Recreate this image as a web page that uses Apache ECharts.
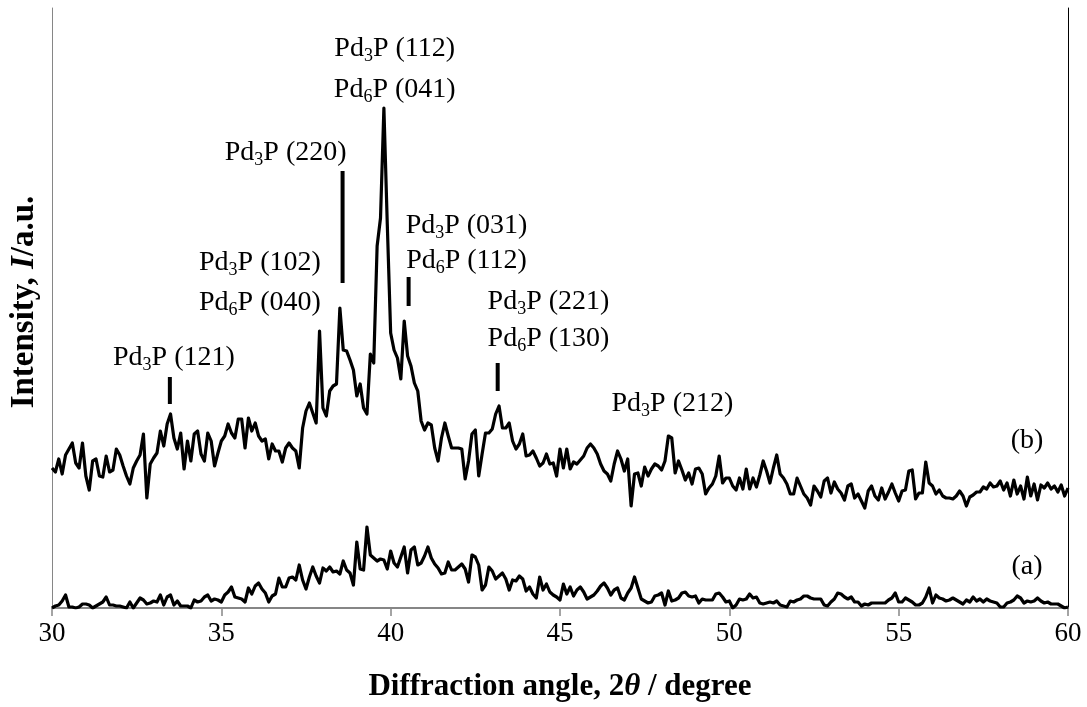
<!DOCTYPE html>
<html>
<head>
<meta charset="utf-8">
<script src="https://cdn.jsdelivr.net/npm/echarts@6/dist/echarts.min.js"></script>
<style>
  html, body { margin: 0; padding: 0; background: #fff; }
  #chart { width: 1087px; height: 707px; }
</style>
</head>
<body>
<div id="chart"></div>
<script>
// Scan grid: 2θ from 30° to 60° in 0.1° steps
const angleStart = 30;
const angleStep = 0.1;

// (b) pattern, arbitrary intensity units
const intensityB = [
  140,136,149,134,153,159,165,145,140,165,
  132,118,147,149,132,131,152,136,138,159,
  153,142,132,124,140,147,153,174,110,144,
  150,155,177,162,184,194,170,159,175,139,
  167,147,174,177,154,147,175,167,142,155,
  167,172,184,175,170,189,189,160,190,177,
  185,172,167,169,149,164,157,157,146,160,
  165,160,157,140,180,197,205,195,185,277,
  200,192,217,222,224,300,258,257,248,238,
  212,224,200,194,254,245,362,390,500,384,
  275,258,250,229,287,252,242,225,217,187,
  178,185,183,160,147,170,185,172,160,160,
  160,159,129,147,174,178,132,154,175,175,
  179,194,202,180,180,185,167,159,164,174,
  152,153,157,150,142,145,154,144,145,132,
  159,140,159,139,146,144,148,152,160,164,
  160,154,144,137,134,127,144,157,149,137,
  149,102,134,135,122,141,132,139,144,142,
  138,147,172,170,135,147,138,128,135,124,
  139,140,134,114,120,124,132,152,125,130,
  130,122,118,130,119,139,119,130,121,133,
  147,137,125,140,153,134,130,124,114,114,
  130,122,114,110,103,122,117,111,127,130,
  115,126,119,115,108,122,124,110,114,107,
  100,117,122,112,108,120,109,116,124,115,
  107,117,118,137,138,109,115,115,146,125,
  122,114,118,112,110,110,109,112,117,112,
  102,111,113,116,116,121,119,125,121,122,
  127,118,125,112,128,114,122,109,131,112,
  124,108,123,120,125,119,122,116,123,112,
  120
];

// (a) pattern, same units
const intensityA = [
  0,2,3,7,13,1,1,0,1,4,
  4,3,0,2,4,6,11,3,3,2,
  2,1,0,6,0,5,10,8,4,5,
  7,6,13,3,11,13,3,7,2,2,
  2,0,8,6,7,11,13,7,9,8,
  6,13,16,21,11,10,9,6,20,14,
  22,25,19,15,6,12,14,30,21,21,
  30,31,28,43,28,19,31,41,32,25,
  40,37,41,36,37,34,47,38,35,23,
  66,39,38,81,53,50,47,49,48,39,
  57,45,41,51,61,35,58,61,43,45,
  52,61,50,44,40,34,35,46,38,38,
  41,44,39,26,53,51,43,18,23,41,
  37,29,32,35,29,18,28,27,32,29,
  17,21,14,10,31,18,24,16,13,11,
  8,24,14,21,12,18,21,16,9,11,
  13,17,22,25,20,13,18,20,10,8,
  15,20,31,20,9,7,5,6,12,13,
  15,3,17,7,8,10,15,16,12,11,
  12,5,9,8,8,8,14,15,11,6,
  7,0,3,9,8,9,14,10,11,5,
  4,5,6,5,7,3,2,1,7,6,
  8,9,12,12,10,9,9,9,3,2,
  6,9,15,14,11,9,11,6,6,2,
  4,3,5,5,5,5,5,8,10,15,
  6,6,10,8,6,3,3,5,11,20,
  5,13,10,9,7,8,10,8,6,4,
  8,6,11,7,9,6,9,7,6,5,
  1,1,5,6,8,12,10,5,7,6,
  7,10,7,5,6,4,4,4,2,0,
  1
];

// x axis ticks
const xTicks = [30, 35, 40, 45, 50, 55, 60];

// Reflection assignments: [2θ, intensity level, text]; {s|n} marks a subscript
const peakLabels = [
  [33.60, 250, 'Pd{s|3}P (121)'],
  [36.14, 345, 'Pd{s|3}P (102)'],
  [36.14, 305, 'Pd{s|6}P (040)'],
  [36.90, 455, 'Pd{s|3}P (220)'],
  [40.12, 559, 'Pd{s|3}P (112)'],
  [40.12, 518, 'Pd{s|6}P (041)'],
  [42.24, 382, 'Pd{s|3}P (031)'],
  [42.24, 347, 'Pd{s|6}P (112)'],
  [44.66, 306, 'Pd{s|3}P (221)'],
  [44.66, 269, 'Pd{s|6}P (130)'],
  [48.32, 204, 'Pd{s|3}P (212)'],
  [58.79, 167, '(b)'],
  [58.79, 41, '(a)']
];

// Vertical marker bars above reflections: [2θ, lower level, upper level]
const peakMarks = [
  [33.48, 204, 231],
  [38.58, 325, 437],
  [40.53, 302, 331],
  [43.16, 217, 245]
];

const serif = '"Liberation Serif", "Times New Roman", serif';
const toPoints = arr => arr.map((v, i) => [+(angleStart + i * angleStep).toFixed(1), v]);
const toRich = t => '{n|' + t.replace(/\{s\|(\w+)\}/g, '}{s|$1}{n|') + '}';

const chart = echarts.init(document.getElementById('chart'), null, { renderer: 'canvas' });

chart.setOption({
  animation: false,
  backgroundColor: '#fff',
  grid: { left: 51, right: 19, top: 8, bottom: 99 },
  xAxis: {
    type: 'value',
    min: xTicks[0],
    max: xTicks[xTicks.length - 1],
    interval: xTicks[1] - xTicks[0],
    axisLine: { show: true, lineStyle: { color: '#868686', width: 2 } },
    axisTick: { show: true, inside: false, length: 8, lineStyle: { color: '#868686', width: 1.5 } },
    axisLabel: { color: '#000', fontSize: 27, fontFamily: serif, margin: 12 },
    splitLine: { show: false },
    name: '{b|Diffraction angle, 2}{i|θ}{b| / degree}',
    nameLocation: 'middle',
    nameGap: 63,
    nameTextStyle: {
      rich: {
        b: { fontSize: 31, fontWeight: 'bold', fontFamily: serif, color: '#000' },
        i: { fontSize: 31, fontWeight: 'bold', fontStyle: 'italic', fontFamily: serif, color: '#000' }
      }
    }
  },
  yAxis: [
    {
      type: 'value',
      min: 0,
      max: 600,
      axisLine: { show: true, lineStyle: { color: '#868686', width: 1 } },
      axisTick: { show: false },
      axisLabel: { show: false },
      splitLine: { show: false },
      name: '{b|Intensity, }{i|I}{b|/a.u.}',
      nameLocation: 'middle',
      nameGap: 11,
      nameTextStyle: {
        padding: [0, 0, 0, 12],
        rich: {
          b: { fontSize: 33, fontWeight: 'bold', fontFamily: serif, color: '#000' },
          i: { fontSize: 33, fontWeight: 'bold', fontStyle: 'italic', fontFamily: serif, color: '#000' }
        }
      }
    },
    {
      type: 'value',
      position: 'right',
      min: 0,
      max: 600,
      axisLine: { show: true, onZero: false, lineStyle: { color: '#000', width: 1 } },
      axisTick: { show: false },
      axisLabel: { show: false },
      splitLine: { show: false }
    }
  ],
  series: [
    {
      name: '(b)',
      type: 'line',
      data: toPoints(intensityB),
      showSymbol: false,
      symbol: 'none',
      lineStyle: { color: '#000', width: 3.2, join: 'round' },
      silent: true
    },
    {
      name: '(a)',
      type: 'line',
      data: toPoints(intensityA),
      showSymbol: false,
      symbol: 'none',
      lineStyle: { color: '#000', width: 3.2, join: 'round' },
      silent: true
    },
    {
      name: 'marks',
      type: 'custom',
      data: peakMarks,
      encode: { x: 0, y: [1, 2] },
      silent: true,
      renderItem(params, api) {
        const p1 = api.coord([api.value(0), api.value(1)]);
        const p2 = api.coord([api.value(0), api.value(2)]);
        return {
          type: 'line',
          shape: { x1: p1[0], y1: p1[1], x2: p2[0], y2: p2[1] },
          style: { stroke: '#000', lineWidth: 4 }
        };
      }
    },
    {
      name: 'labels',
      type: 'scatter',
      symbolSize: 0,
      silent: true,
      itemStyle: { opacity: 1, color: '#000' },
      data: peakLabels.map(d => ({ value: [d[0], d[1]], text: d[2] })),
      label: {
        show: true,
        position: 'inside',
        color: '#000',
        opacity: 1,
        formatter: p => toRich(p.data.text),
        rich: {
          n: { fontSize: 28, lineHeight: 28, verticalAlign: 'top', fontFamily: serif, color: '#000' },
          s: { fontSize: 18, lineHeight: 18, verticalAlign: 'top', padding: [12, 0, 0, 0], fontFamily: serif, color: '#000' }
        }
      }
    }
  ]
});
</script>
</body>
</html>
